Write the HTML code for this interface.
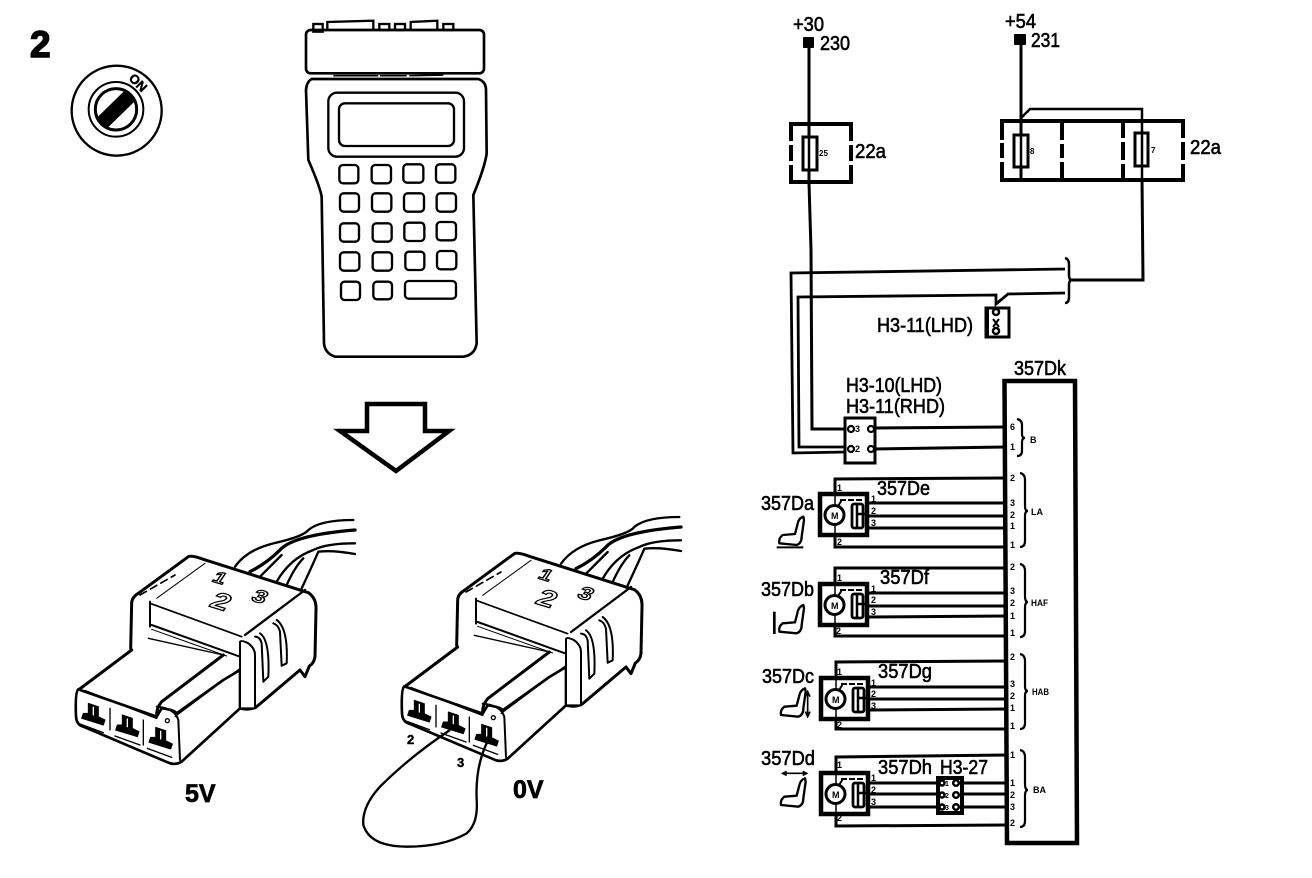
<!DOCTYPE html>
<html>
<head>
<meta charset="utf-8">
<style>
html,body{margin:0;padding:0;background:#fff;width:1312px;height:878px;overflow:hidden}
svg{display:block}
text{font-family:"Liberation Sans",sans-serif;fill:#000}
.l{font-size:20px;stroke:#000;stroke-width:.6px}
.p{font-size:9px;font-weight:bold}
.s{font-size:8px;font-weight:bold}
.n{fill:none;stroke:#000}
.d{font-weight:bold;fill:#fff;stroke:#000;stroke-width:1.300px}
</style>
</head>
<body>
<svg width="1312" height="878" viewBox="0 0 1312 878" xmlns="http://www.w3.org/2000/svg">
<defs>
<g id="conn" fill="none" stroke="#000" stroke-linejoin="round" stroke-linecap="round">
  <g stroke-width="7">
    <path d="M525,200 Q560,150 640,130 Q730,110 745,90 Q780,60 880,60"/>
    <path d="M570,215 Q620,190 660,150 Q700,105 885,90" stroke-width="10"/>
    <path d="M600,230 Q640,190 665,165"/>
    <path d="M650,245 Q690,175 760,150 Q800,130 885,130"/>
    <path d="M680,255 Q705,200 730,175"/>
    <path d="M725,265 Q760,190 775,155 Q820,150 885,162"/>
  </g>
  <path d="M212,445 L215,310 Q215,292 235,280 L385,170 Q395,165 430,178 L745,278 Q770,295 768,330 L765,470 Q762,490 748,498 L735,530 L720,510 L590,620 Q570,632 540,625" fill="#fff" stroke-width="9"/>
  <path d="M555,405 L735,270" stroke-width="7"/>
  <path d="M290,295 L435,190" stroke-width="3"/>
  <path d="M240,285 L345,225" stroke-width="5" stroke-dasharray="22 14"/>
  <path d="M270,310 L545,410" stroke-width="5"/>
  <path d="M270,305 L270,380" stroke-width="6"/>
  <path d="M275,375 L540,470" stroke-width="6"/>
  <path d="M275,388 L500,468" stroke-width="3"/>
  <path d="M215,450 L265,415 L490,465 L305,605 Q288,625 290,650 L75,572 L55,570 Z" fill="#fff" stroke="none"/>
  <path d="M55,570 L215,450" stroke-width="9"/>
  <path d="M265,415 L490,465" stroke-width="4"/>
  <path d="M490,465 L305,605 Q288,625 290,650" stroke-width="9"/>
  <path d="M55,568 Q45,575 48,650 Q50,675 70,680 L330,790 Q350,795 365,785 L540,625 L540,510 L490,540 L350,640 Q345,630 305,625 L290,650 Z" fill="#fff" stroke-width="8"/>
  <path d="M290,620 Q345,625 355,660 L360,780" stroke-width="6"/>
  <path d="M75,572 L290,655" stroke-width="5"/>
  <path d="M345,650 L540,505" stroke-width="3"/>
  <path d="M540,425 Q545,420 565,430 Q585,445 585,465 L585,625 L540,625 Z" fill="#fff" stroke-width="6"/>
  <path d="M600,400 Q630,420 625,530 L610,545 L605,430 Q600,410 585,410" stroke-width="6"/>
  <path d="M650,360 Q685,385 680,490 L665,497 L660,395 Q655,375 640,370" stroke-width="6"/>
  <path d="M150,625 L150,690 M250,660 L250,735" stroke-width="4"/>
  <circle cx="322" cy="662" r="6" stroke-width="4"/>
  <g fill="#000" stroke-width="3">
    <path d="M85,610 L115,620 L115,650 L135,660 L130,675 L65,655 L70,640 L85,640 Z"/>
    <path d="M100,622 L100,645" stroke="#fff" stroke-width="4"/>
  </g>
  <g fill="#000" stroke-width="3" transform="translate(102,35)">
    <path d="M85,610 L115,620 L115,650 L135,660 L130,675 L65,655 L70,640 L85,640 Z"/>
    <path d="M100,622 L100,645" stroke="#fff" stroke-width="4"/>
  </g>
  <g fill="#000" stroke-width="3" transform="translate(202,72)">
    <path d="M85,610 L115,620 L115,650 L135,660 L130,675 L65,655 L70,640 L85,640 Z"/>
    <path d="M100,622 L100,645" stroke="#fff" stroke-width="4"/>
  </g>
  <path d="M60,672 L130,698 M165,708 L240,735 M262,745 L335,772" stroke-width="4"/>
</g>
<g id="mot" fill="none" stroke="#000">
  <rect x="0" y="0" width="47" height="41" stroke-width="4.500" fill="#fff"/>
  <line x1="15" y1="-8" x2="15" y2="50" stroke-width="1.500"/>
  <circle cx="14.500" cy="21" r="9.500" fill="#fff" stroke-width="3"/>
  <rect x="32" y="10" width="11" height="24" rx="2" stroke-width="2.800"/>
  <path d="M37,10 L37,34 M37,20 L46,20" stroke-width="2.500"/>
  <path d="M20,6 L43,6 M18,12 L22,6" stroke-width="2" stroke-dasharray="6 2"/>
</g>
<g id="seat" fill="none" stroke="#000" stroke-width="7" stroke-linejoin="round">
  <path d="M190,170 Q175,175 172,195 L165,222 L128,225 Q115,235 118,250 L170,255 Q185,250 185,230 L192,180 Z"/>
</g>
</defs>

<!-- number and key -->
<text x="30" y="57" font-size="37" font-weight="bold" stroke="#000" stroke-width="1.500">2</text>
<g transform="translate(20,20) scale(.33333)" fill="none" stroke="#000">
  <circle cx="290" cy="272" r="135" stroke-width="7"/>
  <circle cx="288" cy="268" r="82" stroke-width="6"/>
  <circle cx="288" cy="268" r="62" stroke-width="9"/>
  <path d="M243,312 L333,224" stroke-width="44"/>
</g>
<text transform="translate(128,79) rotate(45)" font-size="13" font-weight="bold" stroke="#000" stroke-width=".5">ON</text>

<!-- handset -->
<g transform="translate(280,10) scale(.33333)" fill="none" stroke="#000" stroke-width="7">
  <rect x="100" y="42" width="28" height="23"/>
  <path d="M142,62 L142,36 L280,32 L280,62"/>
  <rect x="298" y="42" width="30" height="18"/>
  <rect x="345" y="42" width="30" height="18"/>
  <path d="M392,60 L392,36 L472,32 L472,60"/>
  <rect x="490" y="42" width="30" height="18"/>
  <rect x="78" y="60" width="534" height="130" rx="14" stroke-width="8"/>
  <path d="M160,197 L295,197 M300,197 L380,197 M388,197 L490,195" stroke-width="5"/>
  <path d="M95,207 L595,207 Q618,215 618,240 L620,430 Q615,470 580,555 L590,1000 Q585,1035 550,1040 L165,1040 Q135,1030 132,1000 L125,560 Q120,530 85,450 L78,240 Q80,215 95,207 Z" stroke-width="8"/>
  <rect x="145" y="248" width="407" height="192" rx="26"/>
  <rect x="177" y="280" width="345" height="128" rx="18"/>
  <rect x="178" y="465" width="57" height="55" rx="11"/>
  <rect x="275" y="465" width="58" height="55" rx="11"/>
  <rect x="370" y="463" width="60" height="55" rx="11"/>
  <rect x="468" y="463" width="58" height="55" rx="11"/>
  <rect x="180" y="550" width="57" height="55" rx="11"/>
  <rect x="276" y="550" width="58" height="55" rx="11"/>
  <rect x="372" y="550" width="60" height="55" rx="11"/>
  <rect x="470" y="550" width="58" height="55" rx="11"/>
  <rect x="180" y="640" width="57" height="55" rx="11"/>
  <rect x="278" y="640" width="57" height="55" rx="11"/>
  <rect x="373" y="638" width="60" height="55" rx="11"/>
  <rect x="470" y="636" width="58" height="55" rx="11"/>
  <rect x="180" y="727" width="58" height="55" rx="11"/>
  <rect x="278" y="727" width="58" height="55" rx="11"/>
  <rect x="376" y="725" width="57" height="55" rx="11"/>
  <rect x="471" y="723" width="58" height="55" rx="11"/>
  <rect x="183" y="815" width="57" height="55" rx="11"/>
  <rect x="280" y="815" width="56" height="53" rx="11"/>
  <rect x="375" y="813" width="153" height="53" rx="11"/>
</g>

<!-- large arrow -->
<path d="M367,404 L425,404 L425,431 L449,431 L396,471 L340,431 L367,431 Z" fill="#fff" stroke="#000" stroke-width="4.500"/>

<!-- connectors -->
<use href="#conn" transform="translate(60,500) scale(.33333)"/>
<use href="#conn" transform="translate(386,497) scale(.33333)"/>

<text class="d" transform="matrix(1.150,.35,-.55,.8,211,581)" font-size="18">1</text>
<text class="d" transform="matrix(1.150,.35,-.55,.8,208,606)" font-size="26">2</text>
<text class="d" transform="matrix(1.150,.35,-.55,.8,250,600)" font-size="20">3</text>
<text class="d" transform="matrix(1.150,.35,-.55,.8,537,578)" font-size="18">1</text>
<text class="d" transform="matrix(1.150,.35,-.55,.8,534,603)" font-size="26">2</text>
<text class="d" transform="matrix(1.150,.35,-.55,.8,576,597)" font-size="20">3</text>

<!-- loop wire -->
<g transform="translate(350,500) scale(.33333)">
  <path class="n" stroke-width="7" d="M300,690 Q180,770 90,860 Q35,920 40,975 Q60,1040 170,1040 Q280,1040 350,1000 Q385,970 380,900 Q375,790 420,710"/>
</g>
<text x="407" y="744" font-size="13" font-weight="bold" stroke="#000" stroke-width=".4">2</text>
<text x="457" y="767" font-size="13" font-weight="bold" stroke="#000" stroke-width=".4">3</text>
<text x="185" y="802" font-size="25" font-weight="bold" stroke="#000" stroke-width=".7">5V</text>
<text x="513" y="798" font-size="25" font-weight="bold" stroke="#000" stroke-width=".7">0V</text>

<!-- WIRING -->
<g class="n" fill="none" stroke="#000">
  <!-- power wires -->
  <path stroke-width="3" d="M809,48 L809,183 L811,250 L812,429 L846,429"/>
  <path stroke-width="3" d="M1021,45 L1021,180"/>
  <path stroke-width="2.500" d="M1021,118 L1030,109 L1142,109 L1142,178"/>
  <path stroke-width="3" d="M1142,178 L1143,280 L1070,280"/>
  <!-- 22a left box -->
  <path stroke-width="4" d="M791,141 L791,124 L851,124 L851,141 M851,145 L851,161 M851,165 L851,182 L791,182 L791,165 M791,161 L791,145"/>
  <rect x="803" y="137" width="14" height="33" fill="#fff" stroke-width="3"/>
  <line x1="809" y1="137" x2="809" y2="170" stroke-width="2.500"/>
  <!-- 22a right box -->
  <path stroke-width="4" d="M1002,140 L1002,121 L1183,121 L1183,138 M1183,142 L1183,160 M1183,164 L1183,180 L1002,180 L1002,162 M1002,158 L1002,143"/>
  <path stroke-width="4" d="M1062,121 L1062,140 M1062,144 L1062,158 M1062,162 L1062,180 M1123,121 L1123,138 M1123,142 L1123,160 M1123,164 L1123,180"/>
  <rect x="1014" y="135" width="14" height="32" fill="#fff" stroke-width="3"/>
  <line x1="1021" y1="135" x2="1021" y2="167" stroke-width="2.500"/>
  <rect x="1135" y="133" width="13" height="33" fill="#fff" stroke-width="3"/>
  <line x1="1142" y1="133" x2="1142" y2="166" stroke-width="2.500"/>
  <!-- loop wires -->
  <path stroke-width="2.800" d="M1065,269 L791,273 L793,453 L846,452"/>
  <path stroke-width="2.800" d="M1065,293 L1008,294 L996,304 L996,295 L798,297 L799,447 L846,447"/>
  <!-- brace -->
  <path stroke-width="2.500" d="M1065,258 Q1069,259 1069,264 L1069,275 Q1069,280 1072,280 Q1069,280 1069,285 L1069,297 Q1069,303 1065,303"/>
  <!-- H3-11 LHD -->
  <rect x="986" y="308" width="23" height="29" stroke-width="3"/>
  <line x1="987" y1="308" x2="987" y2="337" stroke-width="4"/>
  <circle cx="996" cy="312" r="3" stroke-width="2.500"/>
  <circle cx="996" cy="331" r="3" stroke-width="2.500"/>
  <path d="M993,319 L999,327 M999,319 L993,327" stroke-width="2"/>
  <!-- H3-10 -->
  <rect x="845" y="418" width="30" height="45" stroke-width="3" fill="#fff"/>
  <circle cx="851" cy="429" r="3" stroke-width="2.200"/>
  <circle cx="871" cy="429" r="3" stroke-width="2.200"/>
  <circle cx="851" cy="449" r="3" stroke-width="2.200"/>
  <circle cx="871" cy="449" r="3" stroke-width="2.200"/>
  <path stroke-width="3" d="M874,428 L1005,427 M874,449 L1005,447"/>
  <!-- main box -->
  <path stroke-width="4.500" fill="#fff" d="M1004.500,381 L1075,381 L1077,843 L1007,843 Z"/>
  <!-- motor wires a -->
  <path stroke-width="3" d="M1006,478 L835,479 L835,547 L1006,547"/>
  <path stroke-width="3" d="M868,503 L1006,503 M868,516 L1006,516 M868,528 L1006,528"/>
  <!-- b -->
  <path stroke-width="3" d="M1006,568 L835,568 L835,636 L1006,636"/>
  <path stroke-width="3" d="M868,593 L1006,593 M868,606 L1006,606 M868,617 L1006,616"/>
  <!-- c -->
  <path stroke-width="3" d="M1006,661 L836,662 L836,729 L1006,729"/>
  <path stroke-width="3" d="M869,687 L1006,687 M869,699 L1006,699 M869,710 L1006,709"/>
  <!-- d -->
  <path stroke-width="3" d="M1006,755 L836,757 L836,826 L1006,825"/>
  <path stroke-width="3" d="M870,783 L1006,783 M870,794 L1006,794 M870,807 L1006,807"/>
  <!-- H3-27 -->
  <rect x="938" y="778" width="24" height="35" fill="#fff" stroke-width="4"/>
  <!-- pin braces -->
  <g stroke-width="2.200">
    <path d="M1017,419 Q1022,420 1022,425 L1022,434 Q1022,438 1025,438 Q1022,438 1022,442 L1022,451 Q1022,456 1017,456"/>
    <path d="M1020,473 Q1025,474 1025,480 L1025,506 Q1025,511 1028,511 Q1025,511 1025,516 L1025,541 Q1025,547 1020,547"/>
    <path d="M1020,564 Q1025,565 1025,571 L1025,596 Q1025,602 1028,602 Q1025,602 1025,608 L1025,631 Q1025,637 1020,637"/>
    <path d="M1020,654 Q1025,655 1025,661 L1025,686 Q1025,691 1028,691 Q1025,691 1025,696 L1025,723 Q1025,729 1020,729"/>
    <path d="M1020,750 Q1025,751 1025,757 L1025,784 Q1025,790 1028,790 Q1025,790 1025,796 L1025,821 Q1025,827 1020,827"/>
  </g>
</g>

<use href="#mot" transform="translate(820,494)"/>
<use href="#mot" transform="translate(820,584)"/>
<use href="#mot" transform="translate(821,678)"/>
<use href="#mot" transform="translate(821,773)"/>

<!-- H3-27 circles -->
<g fill="none" stroke="#000" stroke-width="2.500">
  <circle cx="956" cy="783" r="2.800"/>
  <circle cx="956" cy="795" r="2.800"/>
  <circle cx="956" cy="807" r="2.800"/>
  <circle cx="942" cy="783" r="2.500"/>
  <circle cx="942" cy="795" r="2.500"/>
  <circle cx="942" cy="807" r="2.500"/>
</g>

<!-- terminals -->
<rect x="803" y="37" width="11" height="11" rx="1"/>
<rect x="1014" y="34" width="12" height="11" rx="1"/>

<!-- seats -->
<g transform="translate(740,460) scale(.33333)">
  <use href="#seat"/>
  <path d="M110,262 L190,262" stroke="#000" stroke-width="6"/>
  <use href="#seat" transform="translate(0,265)"/>
  <path d="M103,455 L103,522" stroke="#000" stroke-width="8"/>
  <use href="#seat" transform="translate(5,515)"/>
  <path d="M203,695 L203,770 M196,710 L203,695 L210,710 M196,755 L203,770 L210,755" stroke="#000" stroke-width="5" fill="none"/>
  <use href="#seat" transform="translate(5,785)"/>
  <path d="M128,940 L200,940 M140,934 L128,940 L140,946 M188,934 L200,940 L188,946" stroke="#000" stroke-width="5" fill="none"/>
</g>

<!-- labels -->
<text class="l" x="793" y="31" textLength="31" lengthAdjust="spacingAndGlyphs">+30</text>
<text class="l" x="820" y="50" textLength="30" lengthAdjust="spacingAndGlyphs">230</text>
<text class="l" x="1005" y="28" textLength="31" lengthAdjust="spacingAndGlyphs">+54</text>
<text class="l" x="1031" y="47" textLength="29" lengthAdjust="spacingAndGlyphs">231</text>
<text class="l" x="855" y="158" textLength="31" lengthAdjust="spacingAndGlyphs">22a</text>
<text class="l" x="1190" y="154" textLength="31" lengthAdjust="spacingAndGlyphs">22a</text>
<text class="s" x="819" y="156">25</text>
<text class="s" x="1030" y="154">8</text>
<text class="s" x="1151" y="153">7</text>
<text class="l" x="877" y="332" textLength="96" lengthAdjust="spacingAndGlyphs">H3-11(LHD)</text>
<text class="l" x="846" y="392" textLength="96" lengthAdjust="spacingAndGlyphs">H3-10(LHD)</text>
<text class="l" x="846" y="413" textLength="99" lengthAdjust="spacingAndGlyphs">H3-11(RHD)</text>
<text class="l" x="1014" y="375" textLength="52" lengthAdjust="spacingAndGlyphs">357Dk</text>
<text class="l" x="761" y="510" textLength="53" lengthAdjust="spacingAndGlyphs">357Da</text>
<text class="l" x="761" y="596" textLength="53" lengthAdjust="spacingAndGlyphs">357Db</text>
<text class="l" x="762" y="683" textLength="52" lengthAdjust="spacingAndGlyphs">357Dc</text>
<text class="l" x="761" y="765" textLength="54" lengthAdjust="spacingAndGlyphs">357Dd</text>
<text class="l" x="877" y="495" textLength="53" lengthAdjust="spacingAndGlyphs">357De</text>
<text class="l" x="880" y="584" textLength="49" lengthAdjust="spacingAndGlyphs">357Df</text>
<text class="l" x="878" y="678" textLength="54" lengthAdjust="spacingAndGlyphs">357Dg</text>
<text class="l" x="878" y="774" textLength="54" lengthAdjust="spacingAndGlyphs">357Dh</text>
<text class="l" x="940" y="774" textLength="48" lengthAdjust="spacingAndGlyphs">H3-27</text>

<!-- motor Ms and pins -->
<g font-size="9" font-weight="bold">
  <text x="831" y="519">M</text><text x="831" y="609">M</text><text x="832" y="703">M</text><text x="832" y="798">M</text>
</g>
<g class="p">
  <text x="855" y="432">3</text><text x="855" y="452">2</text>
  <text x="1010" y="430">6</text><text x="1010" y="450">1</text>
  <text x="1010" y="481">2</text><text x="1010" y="506">3</text><text x="1010" y="518">2</text><text x="1010" y="529">1</text><text x="1010" y="548">1</text>
  <text x="1010" y="570">2</text><text x="1010" y="594">3</text><text x="1010" y="606">2</text><text x="1010" y="619">1</text><text x="1010" y="636">1</text>
  <text x="1010" y="660">2</text><text x="1010" y="687">3</text><text x="1010" y="699">2</text><text x="1010" y="711">1</text><text x="1010" y="729">1</text>
  <text x="1010" y="758">1</text><text x="1010" y="786">1</text><text x="1010" y="798">2</text><text x="1010" y="810">3</text><text x="1010" y="826">2</text>

  <text x="837" y="491">1</text><text x="837" y="545">2</text>
  <text x="837" y="581">1</text><text x="836" y="634">2</text>
  <text x="837" y="675">1</text><text x="837" y="728">2</text>
  <text x="837" y="768">1</text><text x="837" y="821">2</text>

  <text x="871" y="502">1</text><text x="871" y="514">2</text><text x="871" y="526">3</text>
  <text x="871" y="592">1</text><text x="871" y="603">2</text><text x="871" y="615">3</text>
  <text x="871" y="686">1</text><text x="871" y="697">2</text><text x="871" y="709">3</text>
  <text x="871" y="781">1</text><text x="871" y="793">2</text><text x="871" y="805">3</text>

  <text x="1030" y="443">B</text>
  <text x="1031" y="515">LA</text>
  <text x="1031" y="606" textLength="17" lengthAdjust="spacingAndGlyphs">HAF</text>
  <text x="1032" y="695" textLength="17" lengthAdjust="spacingAndGlyphs">HAB</text>
  <text x="1033" y="793">BA</text>
  <text x="945" y="786" font-size="7">1</text><text x="945" y="798" font-size="7">2</text><text x="945" y="810" font-size="7">3</text>
</g>
</svg>
</body>
</html>
